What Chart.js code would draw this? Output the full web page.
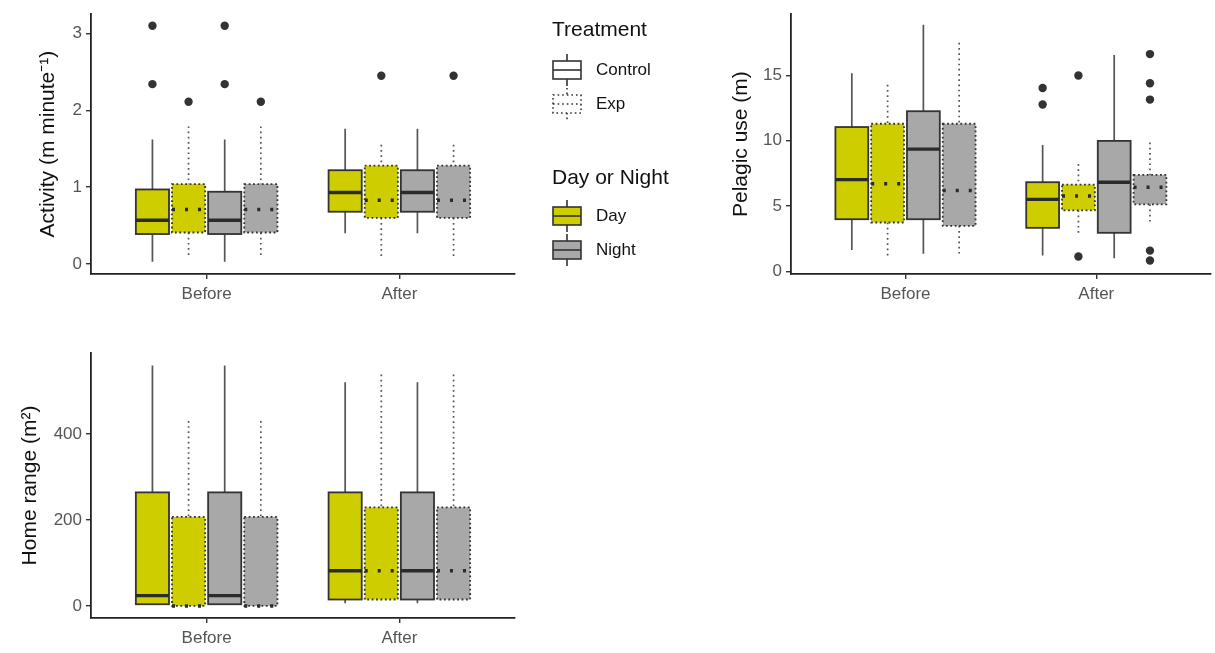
<!DOCTYPE html>
<html>
<head>
<meta charset="utf-8">
<script src="https://cdn.jsdelivr.net/npm/chart.js"></script>
<style>
  body { margin: 0; background: #fff; }
  .panel { position: absolute; }
</style>
</head>
<body>
<div class="panel" style="left:0;top:0;width:720px;height:330px"><canvas id="activity"></canvas></div>
<div class="panel" style="left:700px;top:0;width:515px;height:330px"><canvas id="pelagic"></canvas></div>
<div class="panel" style="left:0;top:330px;width:530px;height:323px"><canvas id="home"></canvas></div>
<script>
const groups = ['Before', 'After'];
const seriesNames = ['Day Control', 'Day Exp', 'Night Control', 'Night Exp'];

// box stats per group: [lower whisker, q1, median, q3, upper whisker]
const activityDayControl   = [[0.03, 0.39, 0.57, 0.97, 1.62], [0.40, 0.68, 0.93, 1.22, 1.76]];
const activityDayExp       = [[0.08, 0.41, 0.71, 1.04, 1.79], [0.10, 0.60, 0.83, 1.28, 1.55]];
const activityNightControl = [[0.03, 0.39, 0.57, 0.94, 1.62], [0.40, 0.68, 0.93, 1.22, 1.76]];
const activityNightExp     = [[0.08, 0.41, 0.71, 1.04, 1.79], [0.10, 0.60, 0.83, 1.28, 1.55]];
const activityOutliers = [[[3.10, 2.34], []], [[2.11], [2.45]], [[3.10, 2.34], []], [[2.11], [2.45]]];
const activityTicks = [0, 1, 2, 3];

const pelagicDayControl   = [[1.64, 3.99, 7.02, 11.04, 15.15], [1.21, 3.33, 5.51, 6.82, 9.67]];
const pelagicDayExp       = [[0.94, 3.74, 6.70, 11.29, 14.27], [2.78, 4.67, 5.76, 6.64, 8.21]];
const pelagicNightControl = [[1.34, 3.99, 9.35, 12.25, 18.86], [1.01, 2.95, 6.82, 9.98, 16.55]];
const pelagicNightExp     = [[1.14, 3.48, 6.19, 11.29, 17.48], [3.67, 5.13, 6.44, 7.38, 9.85]];
const pelagicOutliers = [[[], [14.02, 12.76]], [[], [14.98, 1.14]], [[], []], [[], [16.62, 14.39, 13.14, 1.59, 0.83]]];
const pelagicTicks = [0, 5, 10, 15];

const homeDayControl   = [[2, 4, 24, 264, 559], [6, 15, 82, 264, 520]];
const homeDayExp       = [[0, 0, 0, 207, 430], [15, 15, 82, 229, 538]];
const homeNightControl = [[2, 4, 24, 264, 559], [6, 15, 82, 264, 520]];
const homeNightExp     = [[0, 0, 0, 207, 430], [15, 15, 82, 229, 538]];
const homeOutliers = [[[], []], [[], []], [[], []], [[], []]];
const homeTicks = [0, 200, 400];

const dayFill = '#CDCD00';
const nightFill = '#A8A8A8';
const fills = [dayFill, dayFill, nightFill, nightFill];
const dotted = [false, true, false, true];
const dodge = [-0.28125, -0.09375, 0.09375, 0.28125];
const boxW = 0.172;
const font = '"Liberation Sans", Arial, sans-serif';

function boxPlugin(stats) {
  return {
    id: 'boxes',
    beforeDatasetsDraw(chart) {
      const ctx = chart.ctx, xs = chart.scales.x, ys = chart.scales.y;
      const half = (xs.getPixelForValue(boxW) - xs.getPixelForValue(0)) / 2;
      stats.forEach((s, si) => {
        s.forEach((b, gi) => {
          const cx = xs.getPixelForValue(gi + 1 + dodge[si]);
          const [lo, q1, med, q3, hi] = b.map(v => ys.getPixelForValue(v));
          ctx.save();
          ctx.lineCap = 'butt';
          // whiskers
          ctx.strokeStyle = '#555';
          ctx.lineWidth = 1.7;
          ctx.setLineDash(dotted[si] ? [1.7, 3.5] : []);
          ctx.beginPath();
          ctx.moveTo(cx, hi); ctx.lineTo(cx, q3);
          ctx.moveTo(cx, q1); ctx.lineTo(cx, lo);
          ctx.stroke();
          // box
          ctx.fillStyle = fills[si];
          ctx.fillRect(cx - half, q3, half * 2, q1 - q3);
          ctx.strokeStyle = '#333';
          ctx.lineWidth = 1.8;
          ctx.setLineDash(dotted[si] ? [1.8, 2.6] : []);
          ctx.strokeRect(cx - half, q3, half * 2, q1 - q3);
          // median
          ctx.lineWidth = 3.4;
          ctx.strokeStyle = '#2b2b2b';
          ctx.setLineDash(dotted[si] ? [3, 10] : []);
          ctx.beginPath();
          ctx.moveTo(cx - half, med); ctx.lineTo(cx + half, med);
          ctx.stroke();
          ctx.restore();
        });
      });
    }
  };
}

function legendKey(ctx, x, cy, fill, isDotted) {
  ctx.save();
  ctx.strokeStyle = '#333';
  ctx.lineWidth = 1.6;
  ctx.setLineDash(isDotted ? [1.6, 3] : []);
  ctx.beginPath();
  ctx.moveTo(x + 14, cy - 16); ctx.lineTo(x + 14, cy - 9);
  ctx.moveTo(x + 14, cy + 9); ctx.lineTo(x + 14, cy + 16);
  ctx.stroke();
  ctx.fillStyle = fill;
  ctx.fillRect(x, cy - 9, 28, 18);
  ctx.strokeRect(x, cy - 9, 28, 18);
  ctx.beginPath();
  ctx.moveTo(x, cy); ctx.lineTo(x + 28, cy);
  ctx.stroke();
  ctx.restore();
}

const legendPlugin = {
  id: 'boxLegend',
  afterDraw(chart) {
    const ctx = chart.ctx;
    ctx.save();
    ctx.textBaseline = 'middle';
    ctx.textAlign = 'left';
    ctx.fillStyle = '#111';
    ctx.font = '21px ' + font;
    ctx.fillText('Treatment', 552, 30);
    ctx.fillText('Day or Night', 552, 178);
    ctx.font = '17px ' + font;
    ctx.fillText('Control', 596, 70);
    ctx.fillText('Exp', 596, 104);
    ctx.fillText('Day', 596, 216);
    ctx.fillText('Night', 596, 250);
    legendKey(ctx, 553, 70, '#fff', false);
    legendKey(ctx, 553, 104, '#fff', true);
    legendKey(ctx, 553, 216, dayFill, false);
    legendKey(ctx, 553, 250, nightFill, false);
    ctx.restore();
  }
};

function makeChart(id, title, stats, outliers, yMin, yMax, yTicks, pad, xHeight, titlePad, extra) {
  const points = [];
  outliers.forEach((s, si) => s.forEach((vals, gi) => vals.forEach(v => {
    points.push({ x: gi + 1 + dodge[si], y: v });
  })));
  const plugins = [boxPlugin(stats)];
  if (extra) plugins.push(extra);
  return new Chart(document.getElementById(id), {
    type: 'scatter',
    data: {
      datasets: [{
        data: points,
        pointRadius: 4.2,
        pointHoverRadius: 4.2,
        backgroundColor: '#333',
        borderWidth: 0
      }]
    },
    options: {
      responsive: true,
      maintainAspectRatio: false,
      animation: false,
      events: [],
      layout: { padding: pad },
      plugins: { legend: { display: false }, tooltip: { enabled: false } },
      scales: {
        x: {
          type: 'linear',
          min: 0.4,
          max: 2.6,
          afterBuildTicks: s => { s.ticks = groups.map((g, i) => ({ value: i + 1 })); },
          afterFit: s => { s.height = xHeight; },
          ticks: {
            autoSkip: false,
            maxRotation: 0,
            padding: 5,
            color: '#555',
            font: { family: font, size: 17 },
            callback: v => groups[v - 1]
          },
          grid: { display: true, drawOnChartArea: false, drawTicks: true, tickLength: 5, color: '#333', lineWidth: 1.4 },
          border: { display: true, color: '#222', width: 1.8 }
        },
        y: {
          min: yMin,
          max: yMax,
          afterBuildTicks: s => { s.ticks = yTicks.map(v => ({ value: v })); },
          afterFit: s => { s.width = 91; },
          ticks: {
            padding: 4,
            color: '#555',
            font: { family: font, size: 17 }
          },
          grid: { display: true, drawOnChartArea: false, drawTicks: true, tickLength: 5, color: '#333', lineWidth: 1.4 },
          border: { display: true, color: '#222', width: 1.8 },
          title: {
            display: true,
            text: title,
            color: '#111',
            font: { family: font, size: 21, lineHeight: 1.2 },
            padding: { top: titlePad, bottom: 0 }
          }
        }
      }
    },
    plugins: plugins
  });
}

makeChart('activity', 'Activity (m minute\u207B\u00B9)',
  [activityDayControl, activityDayExp, activityNightControl, activityNightExp],
  activityOutliers, -0.13, 3.25, activityTicks,
  { top: 12, right: 205, left: 0, bottom: 0 }, 56, 36, legendPlugin);

makeChart('pelagic', 'Pelagic use (m)',
  [pelagicDayControl, pelagicDayExp, pelagicNightControl, pelagicNightExp],
  pelagicOutliers, -0.2, 19.67, pelagicTicks,
  { top: 12, right: 2, left: 0, bottom: 0 }, 56, 29, null);

makeChart('home', 'Home range (m\u00B2)',
  [homeDayControl, homeDayExp, homeNightControl, homeNightExp],
  homeOutliers, -28, 588, homeTicks,
  { top: 23, right: 15, left: 0, bottom: 0 }, 35, 18, null);
</script>
</body>
</html>
